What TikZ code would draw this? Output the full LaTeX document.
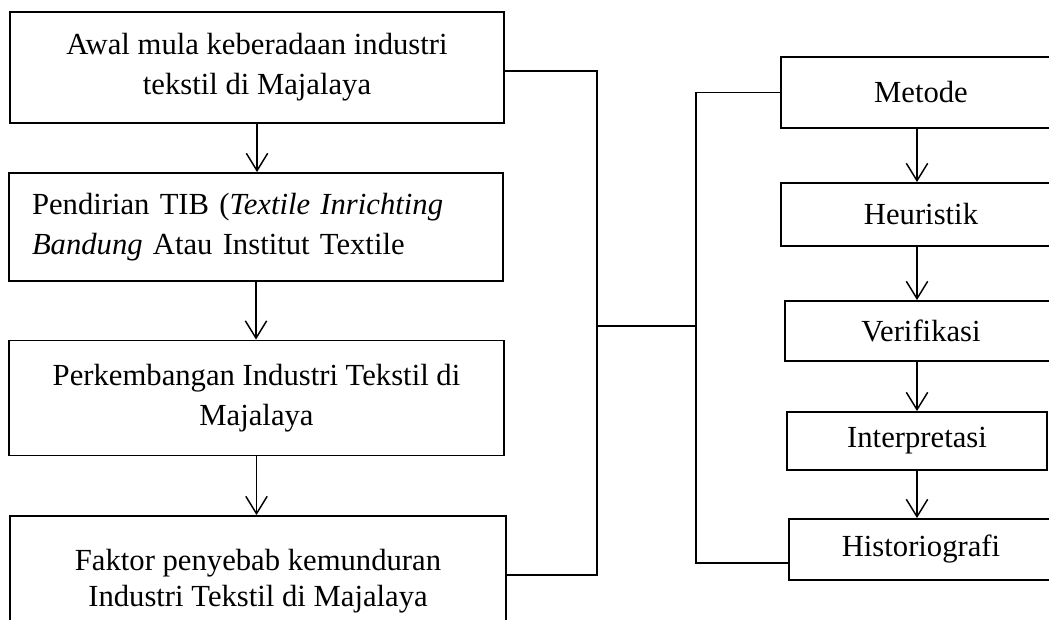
\documentclass[tikz,border=0pt]{standalone}
\usepackage{fontspec}
\setmainfont{Liberation Serif}
\usetikzlibrary{arrows.meta,positioning}

\begin{document}
\begin{tikzpicture}[x=0.75pt,y=-0.75pt,
	kotak/.style={draw,line width=1.4pt,inner sep=0pt,align=center,font=\fontsize{23}{30}\selectfont},
	panah/.style={line width=1.1pt,-{Straight Barb[length=13pt,width=16pt,line width=1.1pt]}},
	garis/.style={line width=1.1pt}]
		\useasboundingbox (0,0) rectangle (1049,620);
		
		\node[kotak,minimum width=370.5pt,minimum height=83.25pt] (awal) at (257,67.5) {Awal mula keberadaan industri\\tekstil di Majalaya};
		\node[kotak,minimum width=370.5pt,minimum height=81pt,text width=336pt,align=left] (tib) at (256,227) {Pendirian TIB (\textit{Textile Inrichting}\\\textit{Bandung} Atau Institut Textile};
		\node[kotak,minimum width=371.25pt,minimum height=86.25pt] (kembang) at (256.5,398) {Perkembangan Industri Tekstil di\\Majalaya};
		\node[kotak,minimum width=372pt,minimum height=97.5pt,font=\fontsize{23}{27}\selectfont] (faktor) at (258,581) {Faktor penyebab kemunduran\\Industri Tekstil di Majalaya};
		
		\draw[panah] (awal.south) -- (awal.south |- tib.north);
		\draw[panah] (tib.south) -- (tib.south |- kembang.north);
		\draw[panah] (kembang.south) -- (kembang.south |- faktor.north);
		
		\node[kotak,minimum width=210pt,minimum height=53.25pt] (metode) at (921,92.5) {Metode};
		\node[kotak,minimum width=210pt,minimum height=47.25pt] (heuristik) at (921,214.5) {Heuristik};
		\node[kotak,minimum width=204pt,minimum height=45pt] (verifikasi) at (921,331) {Verifikasi};
		\node[kotak,minimum width=195pt,minimum height=43.5pt] (interpretasi) at (917,441) {Interpretasi};
		\node[kotak,minimum width=198pt,minimum height=45.75pt] (historiografi) at (921,549.5) {Historiografi};
		
		\draw[panah] (metode.south -| interpretasi) -- (heuristik.north -| interpretasi);
		\draw[panah] (heuristik.south -| interpretasi) -- (verifikasi.north -| interpretasi);
		\draw[panah] (verifikasi.south -| interpretasi) -- (interpretasi.north);
		\draw[panah] (interpretasi.south) -- (historiografi.north -| interpretasi);
		
		\coordinate (kiriatas) at (597,71);
		\coordinate (kiribawah) at (597,575);
		\coordinate (kanan) at (696,326);
		\coordinate (kananbawah) at (696,563);
		\draw[garis] (awal.east |- kiriatas) -- (kiriatas) -- (kiribawah) -- (faktor.east |- kiribawah);
		\draw[garis] (kiriatas |- kanan) -- (kanan);
		\draw[garis] (metode.west) -| (kananbawah) -- (historiografi.west |- kananbawah);
		
	\end{tikzpicture}
\end{document}
